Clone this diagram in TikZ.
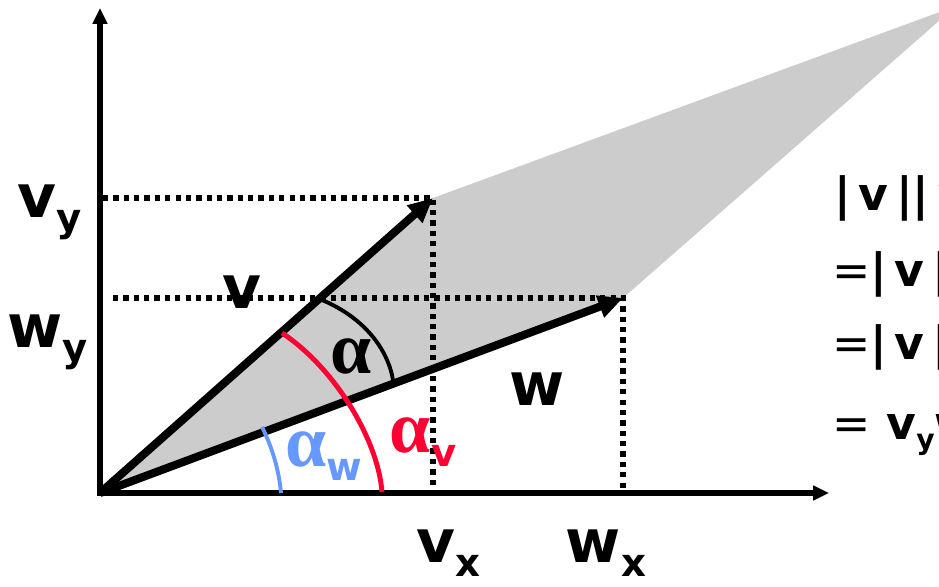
\documentclass[tikz,border=0pt]{standalone}
\usepackage{fontspec}
\setmainfont{DejaVu Sans}
\newfontfamily\grk{Liberation Serif}
\usepackage{tikz}
\usetikzlibrary{arrows.meta,positioning,calc}
\definecolor{areagray}{RGB}{204,204,204}
\definecolor{angred}{RGB}{255,0,51}
\definecolor{angblue}{RGB}{102,153,255}
\newcommand{\lsub}[1]{\raisebox{-8pt}{\fontsize{22}{22}\selectfont #1}}
\newcommand{\ssub}[1]{\raisebox{-6pt}{\fontsize{16}{16}\selectfont #1}}
\newcommand{\alp}{{\grk\bfseries\fontsize{42}{42}\selectfont α}}
\newcommand{\salp}{{\grk\bfseries\fontsize{30}{30}\selectfont α}}

\begin{document}
\begin{tikzpicture}[x=0.02cm,y=-0.02cm,
  every node/.style={inner sep=0pt},
  lbl/.style={font=\fontsize{34}{34}\selectfont\bfseries},
  eqn/.style={font=\fontsize{26}{26}\selectfont\bfseries,anchor=west},
  axis/.style={line width=3pt,-{Triangle[length=9pt,width=8pt]}},
  vect/.style={line width=4.6pt,-{Triangle[length=14pt,width=12.5pt]}},
  proj/.style={line width=3pt,dash pattern=on 3pt off 2.9pt},
  angarc/.style={line width=2.2pt}]
\useasboundingbox (0,0) rectangle (939,587);
\clip (0,0) rectangle (939,587);
\coordinate (O) at (100,493);
\coordinate (v) at (433,198);
\coordinate (w) at (623,298);
\coordinate (vw) at (956,6);
\coordinate (ytop) at (100,8);
\coordinate (xend) at (829,493);
% area spanned by v and w
\fill[areagray] (O) -- (v) -- (vw) -- (w) -- cycle;
% projections
\draw[proj] (103,198) -- (v) -- (v |- O);
\draw[proj] (113,298) -- (w) -- (w |- O);
% axes
\draw[axis] (100,496) -- (ytop);
\draw[axis] (98,493) -- (xend);
% vectors
\draw[vect] (O) -- (v);
\draw[vect] (O) -- (w);
% angles
\draw[angarc] (322,300) .. controls (365,318) and (388,350) .. (393,380);
\draw[angarc,angred,line width=2.8pt] (282,333) .. controls (335,368) and (378,440) .. (382,492);
\draw[angarc,angblue] (262,427) .. controls (272,447) and (279,470) .. (281,493);
% labels
\node[lbl] (vy) at (50,212) {v\lsub{y}};
\node[lbl] (wy) at (48,342) {w\lsub{y}};
\node[lbl] (vx) at (448,553) {v\lsub{x}};
\node[lbl] (wx) at (606,553) {w\lsub{x}};
\node[lbl] (vlab) at (242,292) {v};
\node[lbl] (wlab) at (537,389) {w};
\node (alpha) at (351,356) {\alp};
\node[text=angred] (alphav) at (423,442) {\alp{\bfseries\lsub{v}}};
\node[text=angblue] (alphaw) at (324,456) {\alp{\bfseries\lsub{w}}};
% dot product
\node[eqn] (eq1) at (834,198) {|\,v\,||\,w\,|\,cos\,\salp};
\node[eqn] (eq2) at (832,274) {{\mdseries=}|\,v\,||\,w\,|\,cos(\salp\ssub{v}\,−\,\salp\ssub{w})};
\node[eqn] (eq3) at (832,347) {{\mdseries=}|\,v\,||\,w\,|\,(cos\,\salp\ssub{v}\,cos\,\salp\ssub{w}\,+\,sin\,\salp\ssub{v}\,sin\,\salp\ssub{w})};
\node[eqn] (eq4) at (832,433) {{\mdseries=} v\ssub{y}w\ssub{y}\,+\,v\ssub{x}w\ssub{x}};
\end{tikzpicture}
\end{document}
